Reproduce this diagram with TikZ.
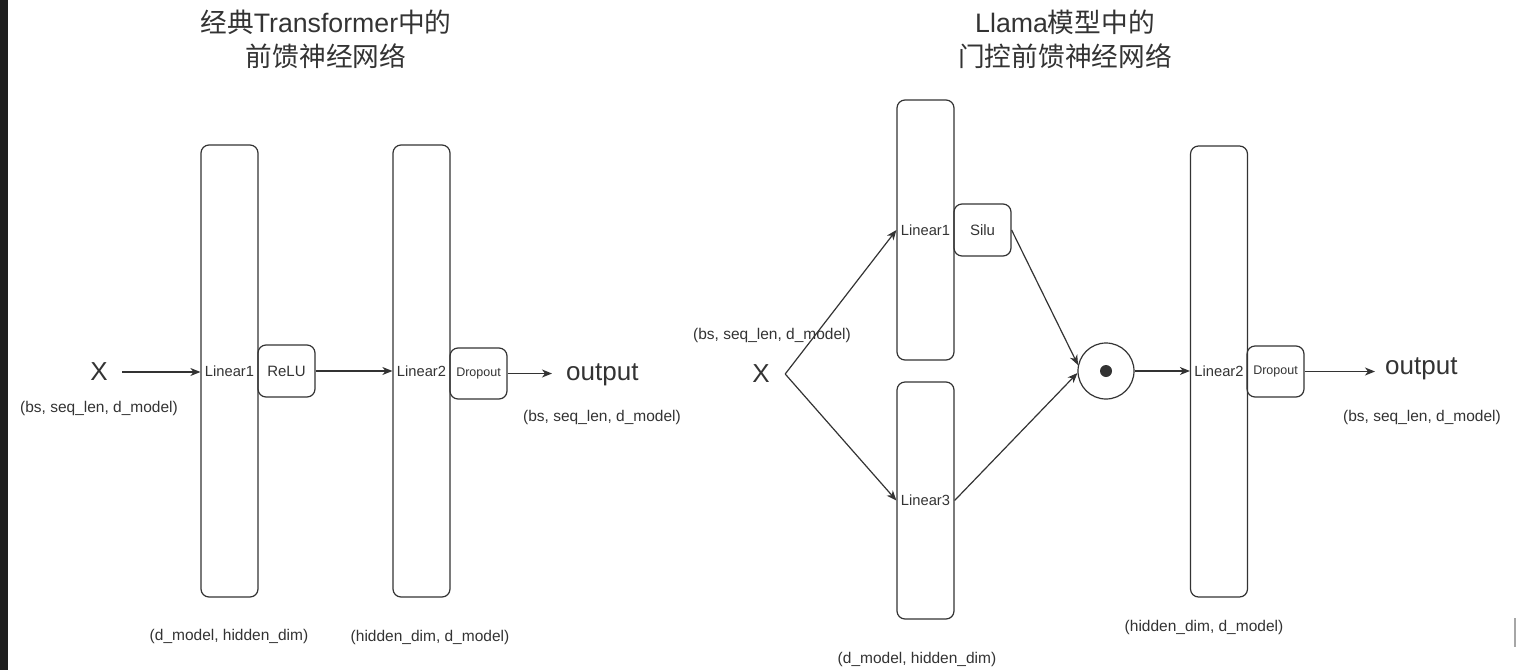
\documentclass[tikz,border=0pt]{standalone}
\usepackage{fontspec}
\setmainfont{Liberation Sans}
\newfontfamily\cjk{Noto Sans CJK SC}
\usetikzlibrary{arrows.meta}
\definecolor{ln}{HTML}{333333}
\definecolor{tx}{HTML}{333333}
\begin{document}
\begin{tikzpicture}[x=1pt,y=-1pt,
  tall/.style={draw=ln, line width=1.2pt, rounded corners=8pt, minimum width=57pt, inner sep=0pt, font=\fontsize{14.7}{16}\selectfont, text=tx},
  act/.style={draw=ln, line width=1.2pt, rounded corners=8pt, minimum width=57pt, minimum height=52pt, inner sep=0pt, font=\fontsize{15}{17}\selectfont, text=tx},
  dims/.style={font=\fontsize{15.5}{18}\selectfont, text=tx, inner sep=0pt},
  big/.style={font=\fontsize{26}{30}\selectfont, text=tx, inner sep=0pt},
  ttl/.style={font=\fontsize{26.7}{34}\selectfont, text=tx, inner sep=0pt, align=center},
  conn/.style={draw=ln, line width=1.2pt, -{Stealth[length=10pt,width=8pt,inset=3pt]}},
  plain/.style={draw=ln, line width=1.2pt}]
\useasboundingbox (0,0) rectangle (1516,670);
\fill[black!88] (0,0) rectangle (8,670);
\draw[black!35, line width=1.5pt] (1515,618) -- (1515,647);

% ---------- left diagram ----------
\node[ttl] (ttlL) at (326,39) {{\cjk 经典}Transformer{\cjk 中的}\\{\cjk 前馈神经网络}};
\node[big, minimum width=46pt] (XL) at (99,372) {X};
\node[dims] (inL) at (99,408) {(bs, seq\_len, d\_model)};
\node[tall, minimum height=452pt] (L1L) at (229.5,371) {Linear1};
\node[act] (relu) at (286.5,371) {ReLU};
\node[tall, minimum height=452pt] (L2L) at (421.5,371) {Linear2};
\node[act, minimum height=51pt, font=\fontsize{12.5}{14}\selectfont] (dropL) at (478.5,373.5) {Dropout};
\node[big, anchor=west, inner xsep=14pt] (outL) at (552,375) {output};
\node[dims] (outdL) at (602,417) {(bs, seq\_len, d\_model)};
\node[dims] (w1L) at (229,636) {(d\_model, hidden\_dim)};
\node[dims] (w2L) at (430,637) {(hidden\_dim, d\_model)};
\draw[conn] (XL.east) -- (XL.east -| L1L.west);
\draw[conn] (relu.east) -- (relu.east -| L2L.west);
\draw[conn] (dropL.east) -- (dropL.east -| outL.west);

% ---------- right diagram ----------
\node[ttl] (ttlR) at (1065,39) {Llama{\cjk 模型中的}\\{\cjk 门控前馈神经网络}};
\node[big, minimum width=48pt] (XR) at (761,374) {X};
\node[dims] (inR) at (772,335) {(bs, seq\_len, d\_model)};
\node[tall, minimum height=260pt] (L1R) at (925.5,230) {Linear1};
\node[act] (silu) at (982.5,230) {Silu};
\node[tall, minimum height=237pt] (L3R) at (925.5,500.5) {Linear3};
\node[draw=ln, line width=1.2pt, circle, minimum size=56pt, inner sep=0pt] (mul) at (1106,371) {};
\fill[ln] (mul.center) circle (6);
\node[tall, minimum height=451pt] (L2R) at (1219,371.5) {Linear2};
\node[act, minimum height=51pt, font=\fontsize{12.5}{14}\selectfont] (dropR) at (1275.5,371.5) {Dropout};
\node[big, anchor=west, inner xsep=10pt] (outR) at (1375,369) {output};
\node[dims] (outdR) at (1422,417) {(bs, seq\_len, d\_model)};
\node[dims] (w2R) at (1204,627) {(hidden\_dim, d\_model)};
\node[dims] (w1R) at (917,659) {(d\_model, hidden\_dim)};
\draw[conn] (XR.east) -- (L1R.west);
\draw[conn] (XR.east) -- (L3R.west);
\draw[conn] (silu.east) -- (mul.168);
\draw[conn] (L3R.east) -- (mul.184);
\draw[conn] (mul.east) -- (mul.east -| L2R.west);
\draw[conn] (dropR.east) -- (dropR.east -| outR.west);
\end{tikzpicture}
\end{document}
